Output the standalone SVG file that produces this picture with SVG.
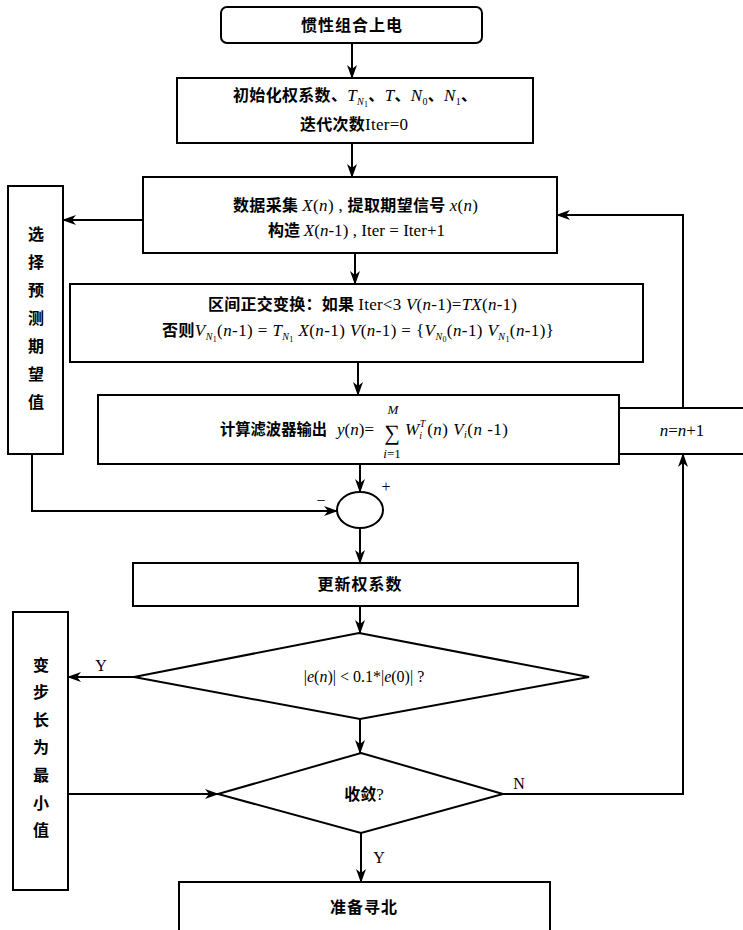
<svg xmlns="http://www.w3.org/2000/svg" width="743" height="930" viewBox="0 0 743 930">
<style>
.box{fill:#fff;stroke:#000;stroke-width:2}
.ln{fill:none;stroke:#000;stroke-width:2}
.cn{font-family:"Noto Sans CJK SC","Noto Sans CJK JP",sans-serif;font-size:16px;font-weight:bold;fill:#000}
.m{font-family:"Liberation Serif",serif;font-style:italic;font-weight:normal;font-size:17px}
.r{font-family:"Liberation Serif",serif;font-style:normal;font-weight:normal;font-size:17px}
.s{font-size:10px}
.t{font-size:8px}
.lb{font-family:"Liberation Serif",serif;font-size:16px;fill:#000}
</style>
<defs>
<marker id="ah" markerUnits="userSpaceOnUse" markerWidth="14" markerHeight="10" refX="13" refY="5" orient="auto">
<path d="M0,0 L14,5 L0,10 L4,5 z" fill="#000"/>
</marker>
</defs>
<rect width="743" height="930" fill="#fff"/>
<g id="connectors">
<line class="ln" x1="352" y1="43" x2="352" y2="78" marker-end="url(#ah)"/>
<line class="ln" x1="352" y1="143" x2="352" y2="177" marker-end="url(#ah)"/>
<line class="ln" x1="355" y1="253" x2="355" y2="284" marker-end="url(#ah)"/>
<line class="ln" x1="358" y1="362" x2="358" y2="395" marker-end="url(#ah)"/>
<line class="ln" x1="143" y1="220" x2="63" y2="220" marker-end="url(#ah)"/>
<line class="ln" x1="360" y1="464" x2="360" y2="492" marker-end="url(#ah)"/>
<polyline class="ln" points="32,454 32,511 337,511" marker-end="url(#ah)"/>
<line class="ln" x1="360" y1="528" x2="360" y2="563" marker-end="url(#ah)"/>
<line class="ln" x1="360" y1="606" x2="360" y2="633" marker-end="url(#ah)"/>
<line class="ln" x1="134" y1="677" x2="68" y2="677" marker-end="url(#ah)"/>
<line class="ln" x1="360" y1="719" x2="360" y2="753" marker-end="url(#ah)"/>
<line class="ln" x1="68" y1="794" x2="218" y2="794" marker-end="url(#ah)"/>
<polyline class="ln" points="503,794 683,794 683,454" marker-end="url(#ah)"/>
<polyline class="ln" points="683,408 683,215 557,215" marker-end="url(#ah)"/>
<line class="ln" x1="361" y1="833" x2="361" y2="882" marker-end="url(#ah)"/>
<text class="lb" x="386" y="492" text-anchor="middle" font-size="22">+</text>
<text class="lb" x="321" y="506" text-anchor="middle" font-size="22">−</text>
<text class="lb" x="101" y="671" text-anchor="middle">Y</text>
<text class="lb" x="519" y="789" text-anchor="middle">N</text>
<text class="lb" x="379" y="863" text-anchor="middle">Y</text>
</g>
<g id="start">
<rect class="box" x="221" y="7" width="261" height="36" rx="6"/>
<text class="cn" x="352" y="31" text-anchor="middle" font-size="16" letter-spacing="1">惯性组合上电</text>
</g>
<g id="init">
<rect class="box" x="177" y="78" width="356" height="65"/>
<text class="cn" x="233" y="101" textLength="244" lengthAdjust="spacing">初始化权系数、<tspan class="m">T</tspan><tspan class="m s" dy="4">N</tspan><tspan class="r t" dy="2">1</tspan><tspan dy="-6">、</tspan><tspan class="m">T</tspan>、<tspan class="m">N</tspan><tspan class="r s" dy="4">0</tspan><tspan dy="-4">、</tspan><tspan class="m">N</tspan><tspan class="r s" dy="4">1</tspan><tspan dy="-4">、</tspan></text>
<text class="cn" x="300" y="130" textLength="108" lengthAdjust="spacing">迭代次数<tspan class="r">Iter=0</tspan></text>
</g>
<g id="collect">
<rect class="box" x="143" y="177" width="414" height="76"/>
<text class="cn" x="233" y="211" textLength="245" lengthAdjust="spacing">数据采集 <tspan class="m">X</tspan><tspan class="r">(</tspan><tspan class="m">n</tspan><tspan class="r">) , </tspan>提取期望信号 <tspan class="m">x</tspan><tspan class="r">(</tspan><tspan class="m">n</tspan><tspan class="r">)</tspan></text>
<text class="cn" x="268" y="236" textLength="177" lengthAdjust="spacing">构造 <tspan class="m">X</tspan><tspan class="r">(</tspan><tspan class="m">n</tspan><tspan class="r">-1) , Iter = Iter+1</tspan></text>
</g>
<g id="select">
<rect class="box" x="8" y="186" width="55" height="268"/>
<text class="cn" text-anchor="middle" font-size="16"><tspan x="36" y="240">选</tspan><tspan x="36" y="268">择</tspan><tspan x="36" y="296">预</tspan><tspan x="36" y="324">测</tspan><tspan x="36" y="352">期</tspan><tspan x="36" y="380">望</tspan><tspan x="36" y="408">值</tspan></text>
</g>
<g id="transform">
<rect class="box" x="70" y="284" width="573" height="78"/>
<text class="cn" x="208" y="310" textLength="309" lengthAdjust="spacing">区间正交变换：如果 <tspan class="r">Iter&lt;3  </tspan><tspan class="m">V</tspan><tspan class="r">(</tspan><tspan class="m">n</tspan><tspan class="r">-1)=</tspan><tspan class="m">TX</tspan><tspan class="r">(</tspan><tspan class="m">n</tspan><tspan class="r">-1)</tspan></text>
<text class="cn" x="162" y="336" textLength="392" lengthAdjust="spacing">否则<tspan class="m">V</tspan><tspan class="m s" dy="4">N</tspan><tspan class="r t" dy="2">1</tspan><tspan class="r" dy="-6">(</tspan><tspan class="m">n</tspan><tspan class="r">-1) = </tspan><tspan class="m">T</tspan><tspan class="m s" dy="4">N</tspan><tspan class="r t" dy="2">1</tspan><tspan class="m" dy="-6"> X</tspan><tspan class="r">(</tspan><tspan class="m">n</tspan><tspan class="r">-1)  </tspan><tspan class="m">V</tspan><tspan class="r">(</tspan><tspan class="m">n</tspan><tspan class="r">-1) = {</tspan><tspan class="m">V</tspan><tspan class="m s" dy="4">N</tspan><tspan class="r t" dy="2">0</tspan><tspan class="r" dy="-6">(</tspan><tspan class="m">n</tspan><tspan class="r">-1)   </tspan><tspan class="m">V</tspan><tspan class="m s" dy="4">N</tspan><tspan class="r t" dy="2">1</tspan><tspan class="r" dy="-6">(</tspan><tspan class="m">n</tspan><tspan class="r">-1)}</tspan></text>
</g>
<g id="filter">
<rect class="box" x="98" y="395" width="521" height="69"/>
<text class="cn" x="220" y="435" textLength="107" lengthAdjust="spacingAndGlyphs">计算滤波器输出</text>
<text x="337" y="435" font-family="Liberation Serif" font-size="17"><tspan font-style="italic">y</tspan>(<tspan font-style="italic">n</tspan>)=</text>
<text x="392" y="440" text-anchor="middle" font-family="Liberation Serif" font-size="22">∑</text>
<text x="393" y="414" text-anchor="middle" font-family="Liberation Serif" font-style="italic" font-size="13">M</text>
<text x="392" y="458" text-anchor="middle" font-family="Liberation Serif" font-size="13"><tspan font-style="italic">i</tspan>=1</text>
<text x="405" y="435" font-family="Liberation Serif" font-size="17" textLength="103" lengthAdjust="spacing"><tspan font-style="italic">W</tspan><tspan font-size="10" font-style="italic" dy="-8">T</tspan><tspan font-size="10" font-style="italic" dx="-6" dy="12">i</tspan><tspan dy="-4"> (</tspan><tspan font-style="italic">n</tspan>) <tspan font-style="italic">V</tspan><tspan font-size="10" font-style="italic" dy="3">i</tspan><tspan dy="-3">(</tspan><tspan font-style="italic">n</tspan> -1)</text>
</g>
<g id="incr">
<rect class="box" x="619" y="408" width="130" height="46"/>
<text x="682" y="436" text-anchor="middle" font-family="Liberation Serif" font-size="17"><tspan font-style="italic">n</tspan>=<tspan font-style="italic">n</tspan>+1</text>
</g>
<g id="sum">
<ellipse class="box" cx="360" cy="510" rx="23" ry="18"/>
</g>
<g id="update">
<rect class="box" x="133" y="563" width="445" height="43"/>
<text class="cn" x="360" y="590" text-anchor="middle" letter-spacing="1">更新权系数</text>
</g>
<g id="cond1">
<polygon class="box" points="359,633 589,677 360,719 134,677"/>
<text x="364" y="682" text-anchor="middle" font-family="Liberation Serif" font-size="16">|<tspan font-style="italic">e</tspan>(<tspan font-style="italic">n</tspan>)| &lt; 0.1*|<tspan font-style="italic">e</tspan>(0)| ?</text>
</g>
<g id="minstep">
<rect class="box" x="13" y="612" width="55" height="278"/>
<text class="cn" text-anchor="middle" font-size="16"><tspan x="41" y="671">变</tspan><tspan x="41" y="698">步</tspan><tspan x="41" y="726">长</tspan><tspan x="41" y="753">为</tspan><tspan x="41" y="781">最</tspan><tspan x="41" y="809">小</tspan><tspan x="41" y="836">值</tspan></text>
</g>
<g id="cond2">
<polygon class="box" points="361,753 503,794 361,833 218,794"/>
<text class="cn" x="364" y="800" text-anchor="middle">收敛<tspan class="r">?</tspan></text>
</g>
<g id="end">
<rect class="box" x="179" y="882" width="371" height="60"/>
<text class="cn" x="364" y="913" text-anchor="middle" letter-spacing="1">准备寻北</text>
</g>
</svg>
